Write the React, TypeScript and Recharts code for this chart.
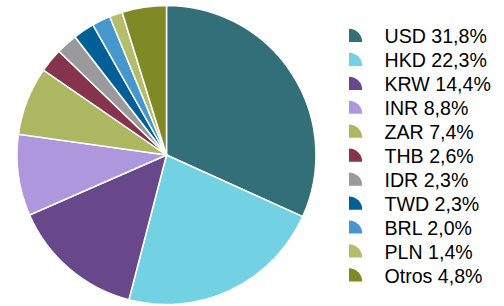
import React from "react";
import { PieChart, Pie, Cell, Legend } from "recharts";

const currencies = ["USD", "HKD", "KRW", "INR", "ZAR", "THB", "IDR", "TWD", "BRL", "PLN", "Otros"];
const shares = [31.8, 22.3, 14.4, 8.8, 7.4, 2.6, 2.3, 2.3, 2.0, 1.4, 4.8];
const labels = ["31,8%", "22,3%", "14,4%", "8,8%", "7,4%", "2,6%", "2,3%", "2,3%", "2,0%", "1,4%", "4,8%"];
const colors = ["#336f78", "#72d2e4", "#68488a", "#ae97dd", "#adb762", "#86344d", "#9a9a9c", "#005f96", "#4698cc", "#b3bd6c", "#7f8a27"];

const data = currencies.map((name, i) => ({ name, value: shares[i], label: labels[i] }));

const LegendContent = () => (
  <svg width={504} height={306} style={{ display: "block" }}>
    {data.map((d, i) => {
      const by = 43.2 + i * 23.95;
      const x0 = 349;
      const r = 13.2;
      const iy = by - 1.2;
      return (
        <g key={d.name}>
          <path d={`M${x0},${iy} L${x0},${iy - r} A${r},${r} 0 0 1 ${x0 + r},${iy} Z`} fill={colors[i]} />
          <text x={384.5} y={by} fontSize={19.6} fontFamily="'Liberation Sans', Arial, sans-serif" fill="#000000">
            {`${d.name} ${d.label}`}
          </text>
        </g>
      );
    })}
  </svg>
);

export default function App() {
  return (
    <div style={{ position: "absolute", left: 0, top: 0, width: 504, height: 306, background: "#fff" }}>
      <PieChart width={504} height={306} margin={{ top: 0, right: 0, bottom: 0, left: 0 }}>
        <Pie
          data={data}
          dataKey="value"
          nameKey="name"
          cx={166.5}
          cy={155}
          outerRadius={149.5}
          innerRadius={0}
          startAngle={90}
          endAngle={-270}
          stroke="#ffffff"
          strokeWidth={1.5}
          isAnimationActive={false}
        >
          {data.map((d, i) => (
            <Cell key={d.name} fill={colors[i]} />
          ))}
        </Pie>
        <Legend
          content={LegendContent}
          wrapperStyle={{ position: "absolute", left: 0, top: 0, width: 504, height: 306, pointerEvents: "none" }}
        />
      </PieChart>
    </div>
  );
}
